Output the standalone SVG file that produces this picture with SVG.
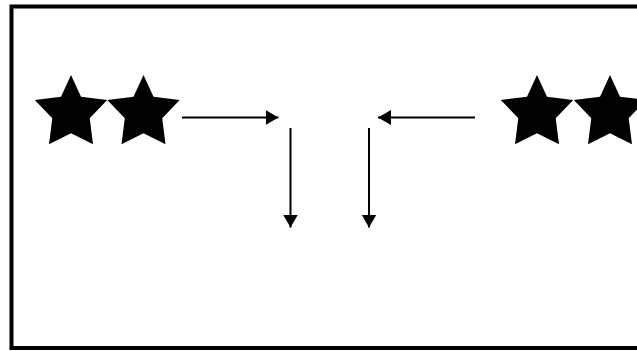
<svg xmlns="http://www.w3.org/2000/svg" width="637" height="351" viewBox="0 0 637 351">
  <defs>
    <style>
      .frame { fill: none; stroke: #000; stroke-width: 4; }
      .star { fill: #000; }
      .conn { stroke: #000; stroke-width: 2; fill: none; marker-end: url(#head); }
    </style>
    <marker id="head" markerUnits="userSpaceOnUse" markerWidth="14" markerHeight="16" refX="13" refY="8" orient="auto">
      <path d="M0,0.5 L13,8 L0,15.5 z" fill="#000"/>
    </marker>
    <path id="starShape" d="M0,0 L10,21.7 L36.2,25 L18.7,43.3 L22,69.3 L0,58.3 L-22,69.3 L-18.7,43.3 L-36.2,25 L-10,21.7 Z"/>
  </defs>
  <rect width="637" height="351" fill="#fff"/>
  <rect class="frame" x="11.5" y="6.5" width="640" height="341.5"/>
  <g id="stars-left">
    <use href="#starShape" class="star" x="71" y="75"/>
    <use href="#starShape" class="star" x="143.5" y="75"/>
  </g>
  <g id="stars-right">
    <use href="#starShape" class="star" x="537" y="75"/>
    <use href="#starShape" class="star" x="610" y="75"/>
  </g>
  <g id="connectors">
    <line class="conn" x1="182" y1="117.5" x2="278.5" y2="117.5"/>
    <line class="conn" x1="475" y1="117.5" x2="378" y2="117.5"/>
    <line class="conn" x1="290.5" y1="128" x2="290.5" y2="227.5"/>
    <line class="conn" x1="369" y1="128" x2="369" y2="227.5"/>
  </g>
</svg>
